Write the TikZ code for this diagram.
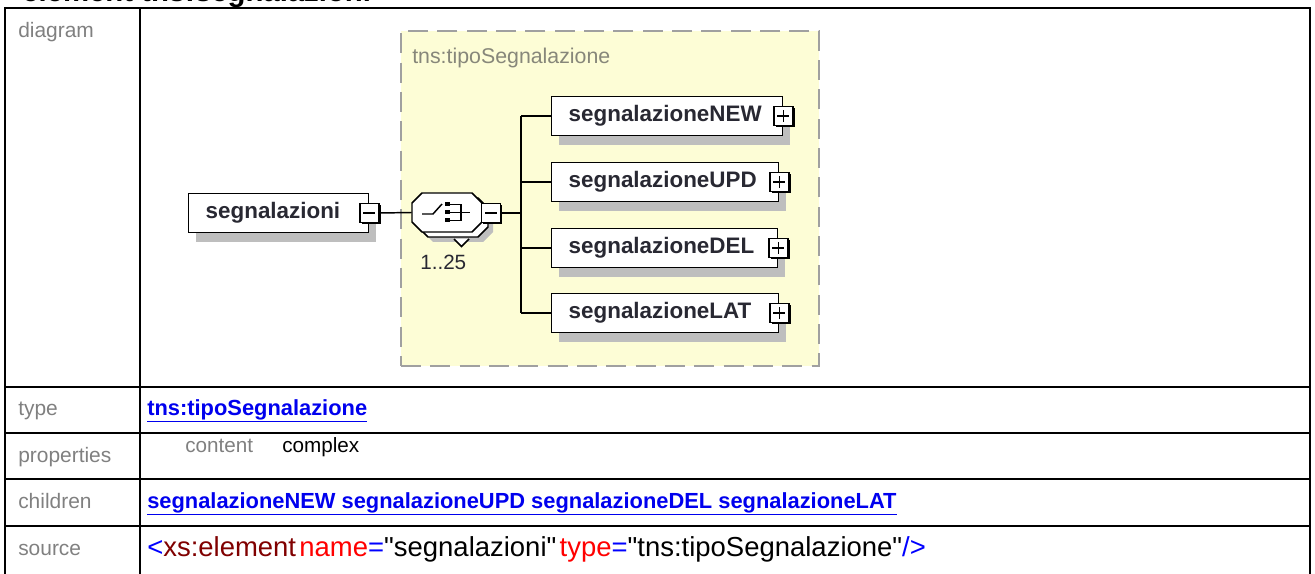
\documentclass[tikz,border=0pt]{standalone}
\usepackage{fontspec}
\setmainfont{Liberation Sans}[Ligatures=TeXOff]
\usetikzlibrary{shadows}
\definecolor{lblgray}{RGB}{128,128,128}
\definecolor{linkblue}{RGB}{0,0,238}
\definecolor{dashgray}{RGB}{160,160,160}
\definecolor{bgyellow}{RGB}{253,253,214}
\definecolor{ttlgray}{RGB}{135,135,122}
\definecolor{shgray}{RGB}{190,190,190}
\definecolor{txtdark}{RGB}{40,40,50}
\definecolor{dkred}{RGB}{128,0,0}
\definecolor{xred}{RGB}{255,0,0}
\definecolor{xblue}{RGB}{0,0,255}
\begin{document}
\begin{tikzpicture}[x=0.75pt,y=-0.75pt,
  tline/.style={line width=1.5pt, black},
  rowlabel/.style={anchor=base west, inner sep=0pt, text=lblgray, font=\fontsize{15.7}{18}\selectfont},
  rowval/.style={anchor=base west, inner sep=0pt, font=\fontsize{16.4}{19}\selectfont\bfseries, text=linkblue},
  elbox/.style={draw=black, line width=1.1pt, fill=white, inner xsep=17*0.75pt, inner ysep=0pt,
     minimum height=39*0.75pt, anchor=west, align=left, text=txtdark,
     font=\fontsize{16.8}{20}\selectfont\bfseries,
     drop shadow={shadow xshift=5.5pt, shadow yshift=-7pt, opacity=1, fill=shgray}},
  sqbox/.style={draw=black, line width=1.1pt, fill=white, minimum size=19*0.75pt, inner sep=0pt,
     drop shadow={shadow xshift=1.3pt, shadow yshift=-1.3pt, opacity=1, fill=black}},
  conn/.style={line width=1.1pt, black},
  octo/.style={draw=black, line width=1.1pt, fill=white}
]
\useasboundingbox (0,0) rectangle (1315,574);

% header (cut off at top)
\node[anchor=base west, inner sep=0pt, font=\fontsize{22}{26}\selectfont\bfseries] (hdr) at (22,2) {element tns:segnalazioni};

% table
\draw[tline] (5,580) -- (5,8) -- (1310,8) -- (1310,580);
\draw[tline] (140,8) -- (140,580);
\foreach \yy in {387,433,479,526} \draw[tline] (5,\yy) -- (1310,\yy);

% row labels
\node[rowlabel] (ldiag) at (18,38) {diagram};
\node[rowlabel] (ltype) at (18,415) {type};
\node[rowlabel] (lprop) at (18,462) {properties};
\node[rowlabel] (lchild) at (18,508) {children};
\node[rowlabel] (lsrc) at (18,555) {source};

% row values
\node[rowval] (vtype) at (147,415) {\underline{tns:tipoSegnalazione}};
\node[anchor=base west, inner sep=0pt, text=lblgray, font=\fontsize{15.5}{18}\selectfont] (vcont) at (185,452) {content};
\node[anchor=base west, inner sep=0pt, text=black, font=\fontsize{15.5}{18}\selectfont] (vcomp) at (282,452) {complex};
\node[rowval] (vchild) at (147,508) {\underline{segnalazioneNEW segnalazioneUPD segnalazioneDEL segnalazioneLAT}};
\node[anchor=base west, inner sep=0pt, font=\fontsize{20.6}{24}\selectfont] (vsrc) at (147,556)
  {\textcolor{xblue}{<}\textcolor{dkred}{xs:element}\hspace{2.5pt}\textcolor{xred}{name}\textcolor{xblue}{=}"segnalazioni"\hspace{2.5pt}\textcolor{xred}{type}\textcolor{xblue}{=}"tns:tipoSegnalazione"\textcolor{xblue}{/>}};

% type container
\node[draw=dashgray, dash pattern=on 15pt off 7pt, line width=1.5pt, fill=bgyellow, anchor=north west,
      minimum width=418*0.75pt, minimum height=335*0.75pt, inner sep=0pt] (tbox) at (400,30) {};
\node[anchor=base west, inner sep=0pt, text=ttlgray, font=\fontsize{16}{19}\selectfont] (ttl) at (412,64) {tns:tipoSegnalazione};

% root element
\node[elbox, text width=(180-34)*0.75pt] (root) at (188,213) {segnalazioni};
\node[sqbox] (rootsq) at (root.east) {};
\draw[line width=1.1pt] ([xshift=-4.5pt]rootsq.center) -- ([xshift=4.5pt]rootsq.center);

% sequence compositor (stacked copies, octagons)
\fill[shgray] (433,203) -- (483,203) -- (493,213) -- (493,232) -- (483,242) -- (433,242) -- (423,232) -- (423,213) -- cycle;
\draw[octo] (428,198) -- (478,198) -- (488,208) -- (488,227) -- (478,237) -- (428,237) -- (418,227) -- (418,208) -- cycle;
\node[minimum width=70*0.75pt, minimum height=39*0.75pt, inner sep=0pt] (seq) at (447,212.5) {};
\draw[octo] (422,193) -- (472,193) -- (482,203) -- (482,222) -- (472,232) -- (422,232) -- (412,222) -- (412,203) -- cycle;
\draw[line width=1.1pt, fill=white] (454,239) -- (461.5,246.5) -- (469,239);
% icon
\draw[line width=1.1pt] (422,214) -- (433,214) -- (442,204);
\fill (445,202) rectangle (449.5,206.5);
\fill (445,210) rectangle (449.5,214.5);
\fill (445,218) rectangle (449.5,222.5);
\draw[line width=1.1pt] (449.5,204.5) -- (461,204.5) -- (461,220.5) -- (449.5,220.5);
\draw[line width=1.1pt] (449.5,212.5) -- (470,212.5);
\node[sqbox] (seqsq) at (491,213) {};
\draw[line width=1.1pt] ([xshift=-4.5pt]seqsq.center) -- ([xshift=4.5pt]seqsq.center);
\node[anchor=base west, inner sep=0pt, text=txtdark, font=\fontsize{15.5}{18}\selectfont] (mult) at (420,270) {1..25};

% children
\node[elbox, text width=(231-34)*0.75pt] (c1) at (551,116) {segnalazioneNEW};
\node[elbox, text width=(227-34)*0.75pt] (c2) at (551,182) {segnalazioneUPD};
\node[elbox, text width=(226-34)*0.75pt] (c3) at (551,248) {segnalazioneDEL};
\node[elbox, text width=(227-34)*0.75pt] (c4) at (551,313) {segnalazioneLAT};
\foreach \c in {c1,c2,c3,c4}{
  \node[sqbox] (\c sq) at (\c.east) {};
  \draw[line width=1.1pt] ([xshift=-4.5pt]\c sq.center) -- ([xshift=4.5pt]\c sq.center);
  \draw[line width=1.1pt] ([yshift=-4.5pt]\c sq.center) -- ([yshift=4.5pt]\c sq.center);
}

% connectors
\draw[conn] (rootsq.east) -- (seq.west);
\coordinate (junc) at (521,213);
\draw[conn] (seqsq.east) -- (junc);
\draw[conn] (junc |- c1.west) -- (junc |- c4.west);
\foreach \c in {c1,c2,c3,c4} \draw[conn] (junc |- \c.west) -- (\c.west);
\end{tikzpicture}
\end{document}
